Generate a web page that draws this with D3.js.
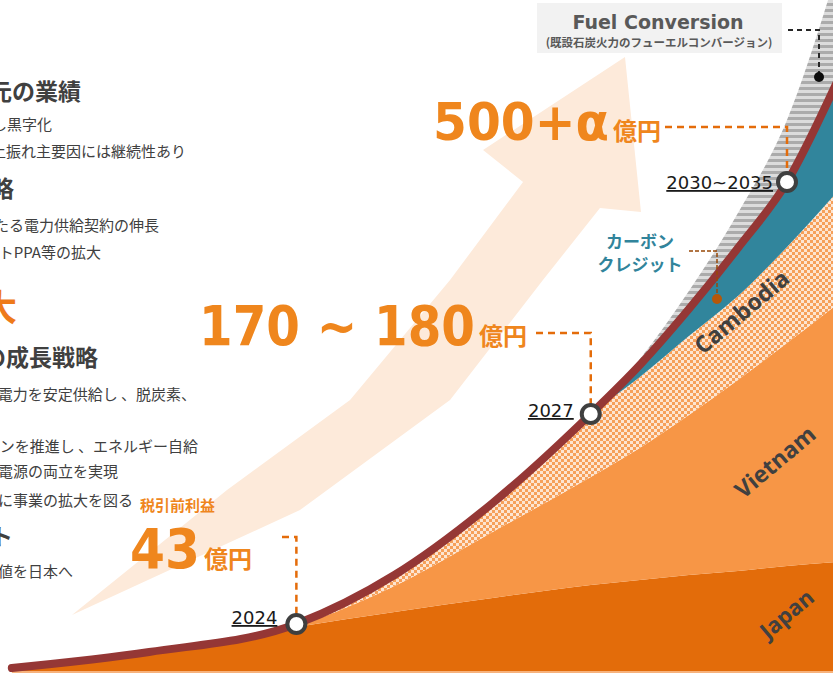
<!DOCTYPE html>
<html>
<head>
<meta charset="utf-8">
<script src="https://cdn.jsdelivr.net/npm/d3@7"></script>
<style>
  body { margin: 0; background: #fff; }
  svg { display: block; }
  text { font-family: "Noto Sans CJK JP", "Noto Sans", sans-serif; }
</style>
</head>
<body>
<div id="chart"></div>
<script>
(function() {

    // stages along the time axis (2024 = 3, 2027 = 6, 2030~2035 = 8)
    var stages   = [0.1, 1.5, 3, 4, 5, 6, 6.5, 7, 7.5, 8, 8.5];
    // stacked layers (relative size)
    var japan    = [3, 19, 44, 59, 73, 86, 91, 96, 100, 105, 109];
    var vietnam  = [0, 0, 1, 26, 66, 108, 132, 160, 191, 223, 257];
    var cambodia = [0, 0, 2, 11, 29, 63, 71, 79, 84, 96, 112];
    var carbon   = [0, 0, 0, 0, 0, 0, 12, 27, 48, 65, 109];
    var fuel     = [0, 0, 0, 0, 0, 0, 6, 18, 35, 62, 110];

    var keys = ["japan", "vietnam", "cambodia", "carbon", "fuel"];

    // milestones
    var milestoneStage = [3, 6, 8];
    var milestoneLabel = ["2024", "2027", "2030~2035"];
    var profitValue    = ["43", "170 ~ 180", "500+α"];
    var profitUnit     = "億円";

    var regionLabel = ["Japan", "Vietnam", "Cambodia"];

    // outline of the big background arrow, in chart units [stage, value]
    var arrowOutline = [[0.713, 56], [2.293, 181], [3.547, 271], [4.566, 391], [5.31, 489],
                        [4.902, 521], [6.349, 614], [6.512, 459], [6.094, 463],
                        [5.513, 391], [4.566, 271], [3.037, 161]];

    var width = 833, height = 673;

    var svg = d3.select("#chart").append("svg")
        .attr("width", width)
        .attr("height", height);

    var x = d3.scaleLinear().domain([0, 8]).range([2, 787]);
    var y = d3.scaleLinear().domain([0, 600]).range([671, 71]);

    // patterns
    var defs = svg.append("defs");
    var checker = defs.append("pattern")
        .attr("id", "checker")
        .attr("patternUnits", "userSpaceOnUse")
        .attr("width", 6).attr("height", 6);
    checker.append("rect").attr("width", 6).attr("height", 6).attr("fill", "#FDE5D1");
    checker.append("rect").attr("width", 3).attr("height", 3).attr("fill", "#F6A05A");
    checker.append("rect").attr("x", 3).attr("y", 3).attr("width", 3).attr("height", 3).attr("fill", "#F6A05A");

    var stripes = defs.append("pattern")
        .attr("id", "stripes")
        .attr("patternUnits", "userSpaceOnUse")
        .attr("width", 6).attr("height", 6);
    stripes.append("rect").attr("width", 6).attr("height", 6).attr("fill", "#DCDCDC");
    stripes.append("rect").attr("y", 3).attr("width", 6).attr("height", 3).attr("fill", "#ABABAB");

    var fills = {
        japan: "#E36C0A",
        vietnam: "#F79646",
        cambodia: "url(#checker)",
        carbon: "#31859C",
        fuel: "url(#stripes)"
    };

    // background arrow
    svg.append("path")
        .datum(arrowOutline)
        .attr("fill", "#FDEADA")
        .attr("d", d3.line()
            .x(function(d) { return x(d[0]); })
            .y(function(d) { return y(d[1]); })
            .curve(d3.curveLinearClosed));

    // build the table for the stack
    var table = stages.map(function(s, i) {
        return { stage: s, japan: japan[i], vietnam: vietnam[i], cambodia: cambodia[i],
                 carbon: carbon[i], fuel: fuel[i] };
    });
    var series = d3.stack().keys(keys)(table);

    var area = d3.area()
        .x(function(d) { return x(d.data.stage); })
        .y0(function(d) { return y(d[0]); })
        .y1(function(d) { return y(d[1]); })
        .curve(d3.curveMonotoneX);

    svg.selectAll(".layer")
        .data(series)
        .enter().append("path")
        .attr("class", "layer")
        .attr("fill", function(d) { return fills[d.key]; })
        .attr("d", area);

    // thin light line along the bottom
    svg.append("line")
        .attr("x1", x(stages[0])).attr("x2", width)
        .attr("y1", y(0) + 1).attr("y2", y(0) + 1)
        .attr("stroke", "#F7B27C").attr("stroke-width", 2);

    // total line (top of carbon credit layer)
    var carbonSeries = series[3];
    svg.append("path")
        .datum(carbonSeries)
        .attr("fill", "none")
        .attr("stroke", "#953735")
        .attr("stroke-width", 8)
        .attr("stroke-linecap", "round")
        .attr("d", d3.line()
            .x(function(d) { return x(d.data.stage); })
            .y(function(d) { return y(d[1]); })
            .curve(d3.curveMonotoneX));

    // region labels
    var regionPos = [[8.0, 57], [7.88, 209], [7.54, 359]];
    svg.selectAll(".region")
        .data(regionLabel)
        .enter().append("text")
        .attr("class", "region")
        .attr("transform", function(d, i) {
            return "translate(" + x(regionPos[i][0]) + "," + y(regionPos[i][1]) + ") rotate(-40)";
        })
        .attr("text-anchor", "middle")
        .attr("dy", "0.35em")
        .style("font-family", "'Open Sans', 'Noto Sans', sans-serif")
        .style("font-weight", "bold")
        .style("font-size", function(d, i) { return i === 0 ? "22px" : "23px"; })
        .attr("fill", "#404040")
        .text(function(d) { return d; });

    // milestone points
    var points = milestoneStage.map(function(s, i) {
        var idx = stages.indexOf(s);
        return { label: milestoneLabel[i], px: x(s), py: y(carbonSeries[idx][1]) };
    });

    // orange dashed leaders from the profit labels
    var leaderTop = [[282, 537], [536, 333], [665, 127]];
    points.forEach(function(p, i) {
        svg.append("path")
            .attr("fill", "none")
            .attr("stroke", "#E46C0A")
            .attr("stroke-width", 2.5)
            .attr("stroke-dasharray", "7,5")
            .attr("d", "M" + leaderTop[i][0] + "," + leaderTop[i][1] +
                       "H" + p.px + "V" + (p.py - 10));
    });

    // Fuel Conversion callout
    svg.append("rect")
        .attr("x", 537).attr("y", 3)
        .attr("width", 245).attr("height", 50)
        .attr("fill", "#F2F2F2");
    svg.append("text")
        .attr("x", 658).attr("y", 29)
        .attr("text-anchor", "middle")
        .style("font-family", "'DejaVu Sans', sans-serif")
        .style("font-weight", "bold")
        .style("font-size", "19px")
        .attr("fill", "#595959")
        .text("Fuel Conversion");
    svg.append("text")
        .attr("x", 659).attr("y", 47)
        .attr("text-anchor", "middle")
        .style("font-weight", "bold")
        .style("font-size", "11.5px")
        .attr("fill", "#595959")
        .text("(既設石炭火力のフューエルコンバージョン)");
    svg.append("path")
        .attr("fill", "none")
        .attr("stroke", "#262626")
        .attr("stroke-width", 2)
        .attr("stroke-dasharray", "5,4")
        .attr("d", "M788,30H819V74");
    svg.append("circle")
        .attr("cx", 819).attr("cy", 77).attr("r", 5)
        .attr("fill", "#0d0d0d");

    // carbon credit callout
    svg.append("text")
        .attr("x", 640).attr("y", 248)
        .attr("text-anchor", "middle")
        .style("font-weight", "bold").style("font-size", "17px")
        .attr("fill", "#31849B")
        .text("カーボン");
    svg.append("text")
        .attr("x", 640).attr("y", 271)
        .attr("text-anchor", "middle")
        .style("font-weight", "bold").style("font-size", "17px")
        .attr("fill", "#31849B")
        .text("クレジット");
    svg.append("path")
        .attr("fill", "none")
        .attr("stroke", "#984807")
        .attr("stroke-width", 1.5)
        .attr("stroke-dasharray", "4,2")
        .attr("d", "M689,251H717V296");
    svg.append("circle")
        .attr("cx", 717).attr("cy", 299).attr("r", 5)
        .attr("fill", "#B65708");

    // milestone circles
    svg.selectAll(".milestone")
        .data(points)
        .enter().append("circle")
        .attr("class", "milestone")
        .attr("cx", function(d) { return d.px; })
        .attr("cy", function(d) { return d.py; })
        .attr("r", 9)
        .attr("fill", "#fff")
        .attr("stroke", "#3F3F3F")
        .attr("stroke-width", 4);

    // year labels
    var yearGap = [19, 17, 14];
    var yearDy = [0, 3, 7];
    svg.selectAll(".year")
        .data(points)
        .enter().append("text")
        .attr("class", "year")
        .attr("x", function(d, i) { return d.px - yearGap[i]; })
        .attr("y", function(d, i) { return d.py + yearDy[i]; })
        .attr("text-anchor", "end")
        .style("font-family", "'DejaVu Sans', sans-serif")
        .style("font-size", "18px")
        .style("text-decoration", "underline")
        .attr("fill", "#1a1a1a")
        .text(function(d) { return d.label; });

    // profit numbers
    var profitLayout = [
        { x: 130, y: 568, len: 70, size: 56 },
        { x: 199, y: 345, len: 276, size: 55 },
        { x: 433, y: 140, len: 176, size: 52 }
    ];
    var orange = "#EF861D";
    profitValue.forEach(function(v, i) {
        var l = profitLayout[i];
        svg.append("text")
            .attr("x", l.x).attr("y", l.y)
            .attr("textLength", l.len)
            .attr("lengthAdjust", "spacingAndGlyphs")
            .style("font-family", "'DejaVu Sans', sans-serif")
            .style("font-weight", "bold")
            .style("font-size", l.size + "px")
            .attr("fill", orange)
            .text(v);
        svg.append("text")
            .attr("x", l.x + l.len + 4).attr("y", l.y)
            .style("font-weight", "bold")
            .style("font-size", "24px")
            .attr("fill", orange)
            .text(profitUnit);
    });
    svg.append("text")
        .attr("x", 140).attr("y", 511)
        .style("font-weight", "bold")
        .style("font-size", "15px")
        .attr("fill", orange)
        .text("税引前利益");

    // left side text panel (clipped by the window edge, as in the slide)
    var notes = [
        { text: "足元の業績", end: 81, y: 100, size: 23, bold: true, color: "#404040" },
        { text: "営業損益が改善し黒字化", end: 52, y: 130, size: 15 },
        { text: "上振れ主要因には継続性あり", end: 186, y: 157, size: 15 },
        { text: "今後の戦略", end: 14, y: 197, size: 23, bold: true, color: "#404040" },
        { text: "長期にわたる電力供給契約の伸長", end: 159, y: 231, size: 15 },
        { text: "コーポレートPPA等の拡大", end: 101, y: 258, size: 15 },
        { text: "事業拡大", end: 17, y: 321, size: 36, bold: true, color: "#EE7A1A" },
        { text: "中長期の成長戦略", end: 98, y: 366, size: 23, bold: true, color: "#404040" },
        { text: "アジアで電力を安定供給し 、脱炭素、", end: 196, y: 400, size: 15 },
        { text: "トランジションを推進し 、エネルギー自給", end: 198, y: 452, size: 15 },
        { text: "と脱炭素電源の両立を実現", end: 118, y: 477, size: 15 },
        { text: "着実に事業の拡大を図る", end: 133, y: 506, size: 15 },
        { text: "インパクト", end: 13, y: 545, size: 23, bold: true, color: "#404040" },
        { text: "事業で得た価値を日本へ", end: 73, y: 577, size: 15 }
    ];
    svg.selectAll(".note")
        .data(notes)
        .enter().append("text")
        .attr("class", "note")
        .attr("x", function(d) { return d.end; })
        .attr("y", function(d) { return d.y; })
        .attr("text-anchor", "end")
        .style("font-size", function(d) { return d.size + "px"; })
        .style("font-weight", function(d) { return d.bold ? "bold" : "normal"; })
        .attr("fill", function(d) { return d.color || "#404040"; })
        .text(function(d) { return d.text; });

})();
</script>
</body>
</html>
